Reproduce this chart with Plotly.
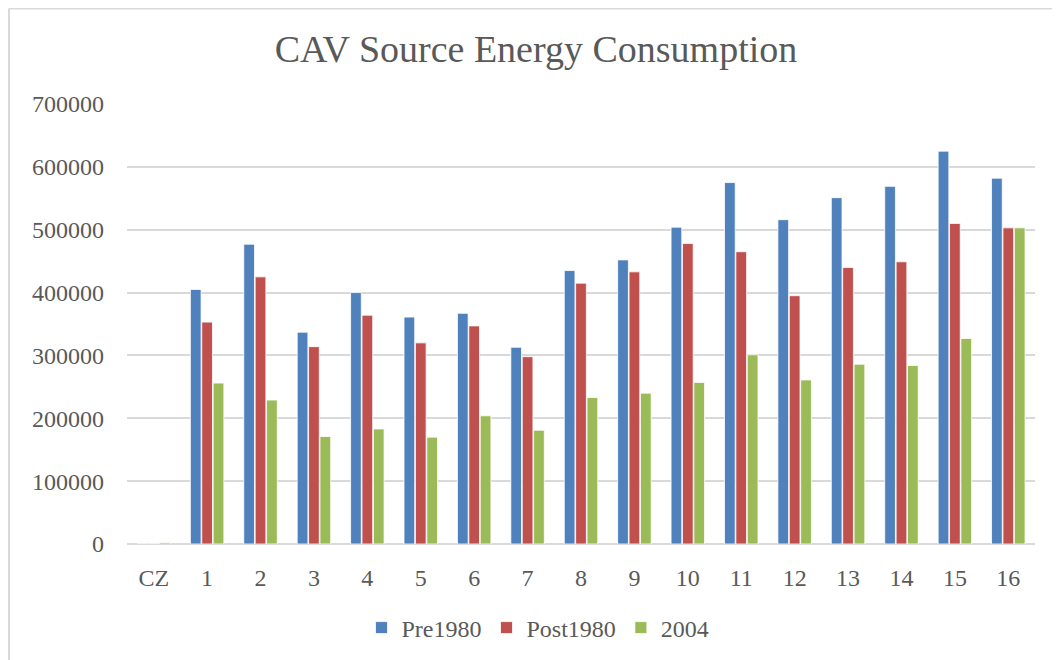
import plotly.graph_objects as go

categories = ["CZ", "1", "2", "3", "4", "5", "6", "7", "8", "9", "10", "11", "12", "13", "14", "15", "16"]
pre1980 = [0, 405000, 477000, 337000, 400000, 361000, 367000, 313000, 435000, 452000,
           504000, 575000, 516000, 551000, 569000, 625000, 582000]
post1980 = [0, 353000, 425000, 314000, 364000, 320000, 347000, 298000, 415000, 433000,
            478000, 465000, 395000, 440000, 449000, 510000, 503000]
y2004 = [2004, 256000, 229000, 171000, 183000, 170000, 204000, 181000, 233000, 240000,
         257000, 301000, 261000, 286000, 284000, 327000, 503000]
y_ticks = [0, 100000, 200000, 300000, 400000, 500000, 600000, 700000]

FONT = "Liberation Serif"
TXT = "#595959"
GRID = "#D9D9D9"

ML, MR, MT, MB = 119, 33, 96, 124
PW, PH = 1060 - ML - MR, 660 - MT - MB

fig = go.Figure()
for name, vals, col in [("Pre1980", pre1980, "#4F81BD"),
                        ("Post1980", post1980, "#C0504D"),
                        ("2004", y2004, "#9BBB59")]:
    fig.add_trace(go.Bar(x=categories, y=vals, name=name,
                         marker=dict(color=col, line=dict(color="white", width=0.8))))

fig.update_layout(
    width=1060, height=660,
    paper_bgcolor="white", plot_bgcolor="white",
    margin=dict(l=ML, r=MR, t=MT, b=MB),
    barmode="group", bargap=0.36, bargroupgap=0.06,
    font=dict(family=FONT, color=TXT, size=24),
    title=dict(text="CAV Source Energy Consumption", x=528 / 1060, xref="container", xanchor="center",
               y=1 - 41 / 660, yref="container", yanchor="middle",
               font=dict(family=FONT, size=38, color=TXT)),
    legend=dict(orientation="h", x=530 / 1060, xref="container", xanchor="center",
                y=1 - 620 / 660, yref="container", yanchor="middle",
                font=dict(family=FONT, size=24, color=TXT), itemwidth=30, traceorder="normal"),
    showlegend=True,
)
fig.update_xaxes(type="category", showgrid=False, showline=False, ticks="",
                 tickfont=dict(family=FONT, size=24, color=TXT), ticklabelstandoff=17)
fig.update_yaxes(range=[0, 700000], tickvals=y_ticks, ticktext=[str(v) for v in y_ticks],
                 showgrid=True, gridcolor=GRID, gridwidth=2,
                 zeroline=True, zerolinecolor=GRID, zerolinewidth=2,
                 showline=False, ticks="", ticklabelstandoff=22,
                 tickfont=dict(family=FONT, size=24, color=TXT))

# chart-area border (top and left edges visible)
bx = (1 - ML) / PW
by = (660 - MB - 0.5) / PH
fig.add_shape(type="line", xref="paper", yref="paper",
              x0=bx, x1=1.2, y0=by, y1=by, line=dict(color=GRID, width=2))
fig.add_shape(type="line", xref="paper", yref="paper",
              x0=bx, x1=bx, y0=by, y1=-0.5, line=dict(color=GRID, width=2))

fig.write_html("out.html")
